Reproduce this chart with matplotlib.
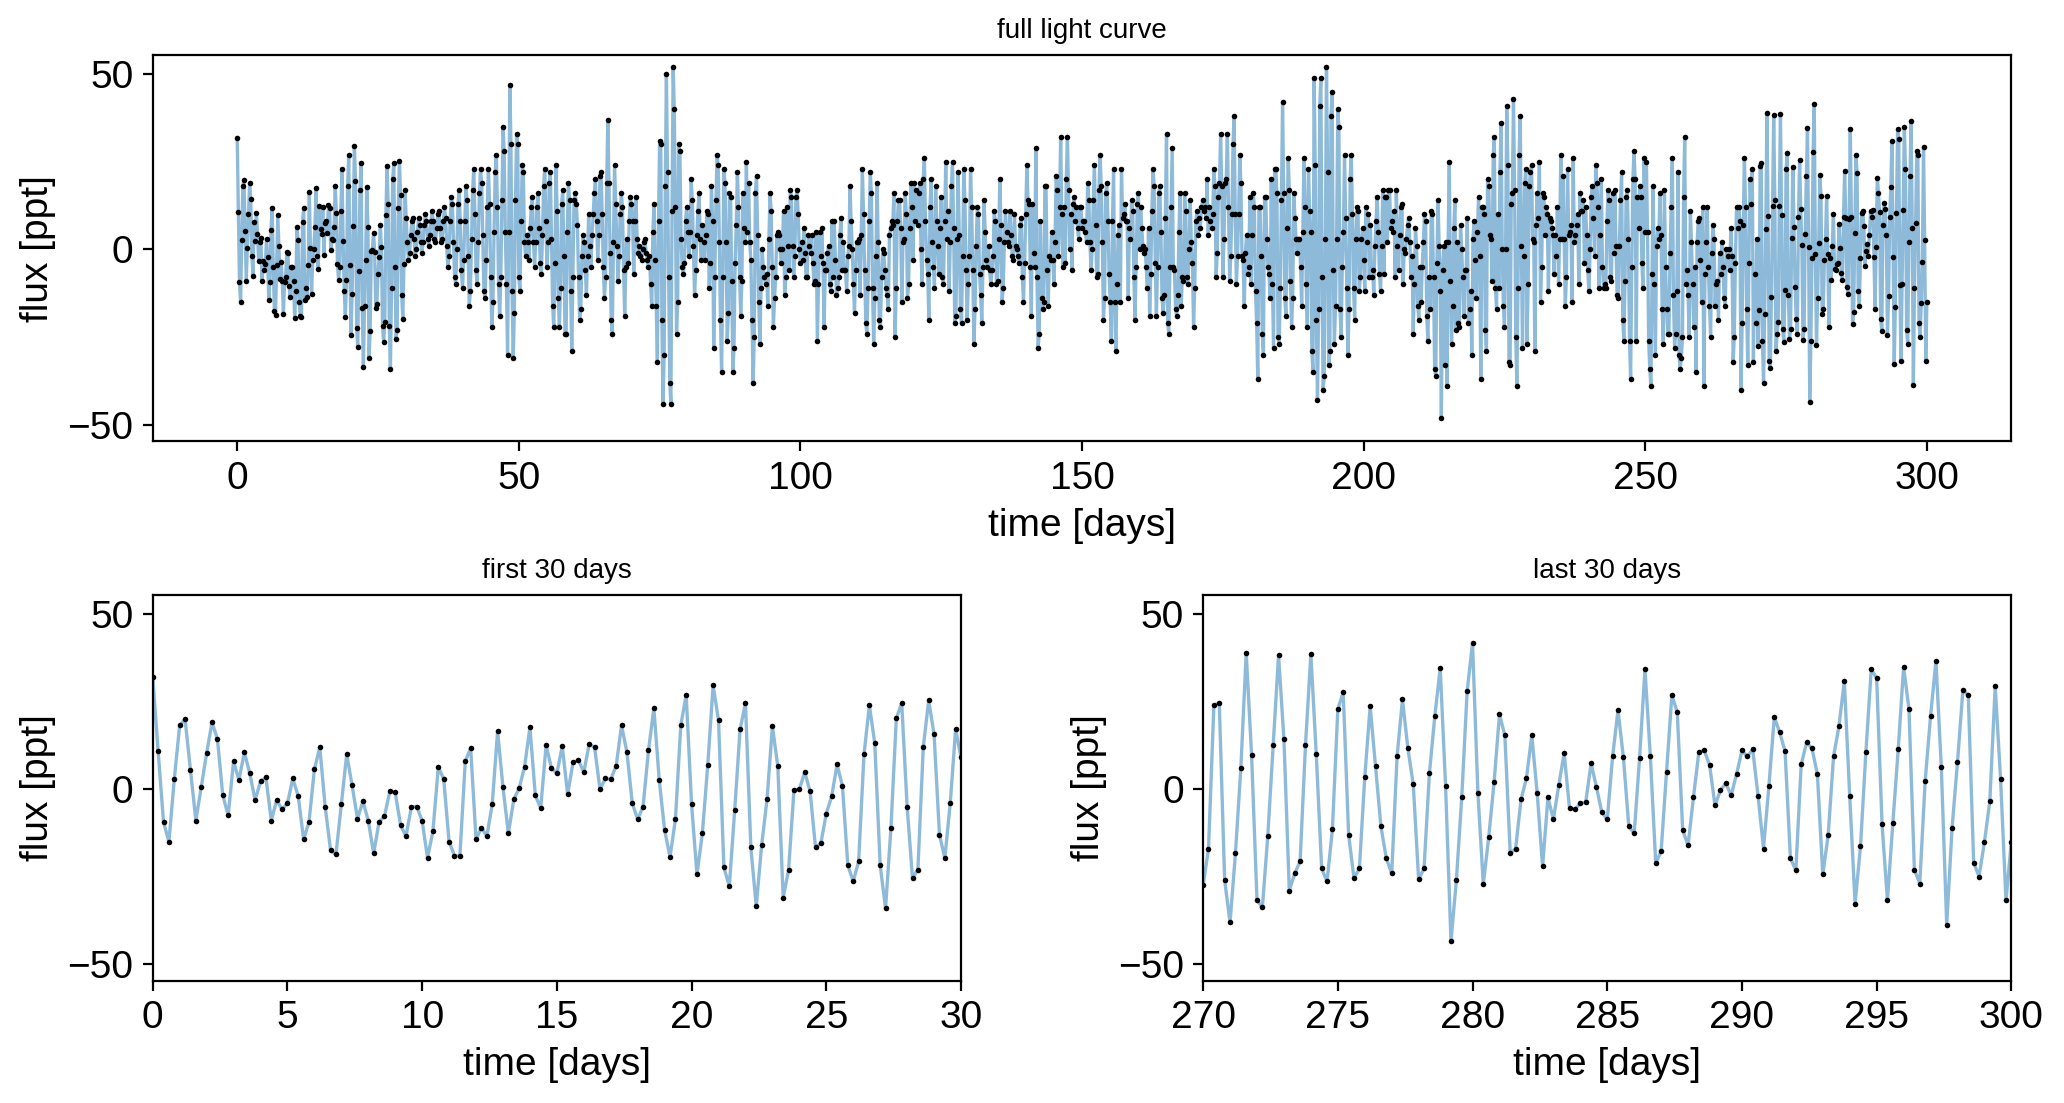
import numpy as np
import matplotlib
matplotlib.use("Agg")
import matplotlib.pyplot as plt

# flux [ppt], sampled every 0.2 days from t = 0 to t = 300
cadence = 0.2

flux_first30 = [
    31.9, 10.8, -9.4, -15.1, 2.8, 18.2, 19.9, 5.3, -9.0, 0.5,
    10.2, 19.0, 14.3, -1.8, -7.5, 7.9, 2.5, 10.5, 4.5, -3.2,
    2.2, 3.3, -9.0, -3.2, -5.8, -4.1, 3.0, -2.1, -14.4, -9.4,
    5.6, 11.9, -5.0, -17.5, -18.7, -4.4, 9.9, 1.0, -8.5, -3.5,
    -9.0, -18.4, -9.4, -7.8, -0.7, -1.0, -10.4, -13.5, -5.1, -5.0,
    -9.1, -19.7, -12.0, 6.3, 2.8, -15.1, -19.0, -19.2, 7.9, 11.7,
    -14.4, -11.0, -13.5, -4.4, 16.5, 0.5, -12.7, -3.0, 0.2, 6.3,
    17.6, -1.8, -5.5, 12.5, 5.9, 4.5, 12.2, -1.5, 7.6, 8.2,
    4.8, 12.8, 11.9, -0.1, 3.0, 2.8, 6.5, 18.2, 10.5, -4.1,
    -8.7, -5.0, 11.0, 23.0, 2.5, -11.8, -19.4, -8.7, 18.2, 26.8,
    -4.4, -24.4, -12.7, 6.8, 29.6, 19.6, -22.4, -27.8, -6.1, 17.0,
    24.5, -16.7, -33.5, -16.1, -3.0, 17.9, 6.5, -31.0, -23.2, -0.4,
    -0.1, 4.8, -0.7, -16.7, -15.5, -7.0, -2.1, 7.0, 0.8, -21.8,
    -26.4, -20.7, 9.9, 23.9, 13.0, -21.8, -34.1, -11.0, 20.2, 24.5,
    -5.0, -25.5, -23.0, 11.9, 25.3, 15.6, -13.0, -19.8, -4.1, 17.0,
    9.0,
]

# days 30.2 - 110
flux_mid_a = [
    2, -3, -1, 4, 8, 9, 3, -2, 0, 5,
    9, 7, 2, -1, 2, 7, 10, 8, 3, 1,
    4, 8, 11, 8, 3, 2, 6, 10, 11, 6,
    2, 3, 8, 12, 9, 1, -5, -2, 8, 15,
    13, 2, -8, -10, 0, 13, 17, 8, -6, -11,
    -3, 8, 18, 14, -2, -16, -12, 3, 17, 23,
    10, -6, -10, 2, 16, 23, 19, 4, -12, -14,
    -3, 12, 23, 13, -8, -22, -15, 5, 22, 27,
    12, -10, -19, -8, 14, 35, 28, 5, -10, -30,
    5, 47, 30, -12, -31, -18, 14, 33, 30, -8,
    -12, 8, 24, 22, 2, -2, 4, 2, -3, 6,
    12, 15, 2, -5, 2, 12, 16, 6, -4, -7,
    4, 18, 23, 8, -5, 2, 19, 22, 3, -16,
    -22, -4, 24, 11, -14, -22, -11, 13, 17, -2,
    -24, -24, 5, 19, 14, -12, -29, -8, 14, 16,
    13, 7, -8, -20, -17, -2, 4, 2, -6, -13,
    -2, 10, 1, -5, 4, 10, 16, 20, 8, -3,
    4, 21, 22, 10, -5, -14, -8, 19, 37, 19,
    -1, -20, -24, 2, 24, 13, 1, -9, -2, 10,
    16, 12, -6, -19, -5, 3, -4, 8, 15, 13,
    8, -7, 8, 15, 3, -1, 1, -2, -3, 0,
    2, 3, -1, -3, -5, -2, -10, -16, 5, 13,
    -3, -16, -32, 8, 31, 30, -20, -44, -30, 18,
    50, 22, -8, -38, -44, 11, 52, 40, 12, -24,
    -15, 30, 28, 3, -5, -7, -4, 8, 12, 5,
    -2, 5, 20, 14, 1, -13, -6, 4, 11, 16,
    3, -3, 7, 2, -3, 4, 11, 10, -11, -4,
    18, 8, -28, -8, 14, 27, 24, 2, -20, -35,
    -8, 23, 19, 2, -26, -18, 16, 15, -9, -35,
    -28, -4, 7, 22, 12, -8, -19, -9, 16, 6,
    2, 25, 5, 19, 2, -3, -20, -38, -25, 16,
    21, 4, -15, -27, -11, 0, -5, -8, -10, -7,
    -16, 3, 16, 11, -5, -22, -14, -8, 4, 5,
    4, 0, -4, 0, 11, -13, -8, 12, 1, -6,
    17, 15, 1, -8, -2, 15, 17, 10, 0, -4,
    2, -3, 6, -1, -8, -8, 4, 1, -1, 4,
    -4, -10, -9, 5, -26, -10, 5, -2, 6, -4,
    -22, -6, -6, -1, 1, -10, -12, 8, -8, 8,
    -3, -13, -11, -8, 4, 9, -6, 2, -6, -6,
    -12, -2, 1, 18, 8, 0, -10, -18, -6, 2,
]

# days 110.2 - 190
flux_mid_b = [
    2, 3, -13, 4, 23, 10, -6, -21, -24, -11,
    8, 22, 16, -11, -27, -14, -2, 19, 2, -20,
    -22, -8, 0, -1, -6, -11, -13, -17, 4, 6,
    8, 7, 16, -25, -11, 8, 14, 14, 6, -15,
    2, 3, 16, 10, -14, -10, 6, 19, 12, -3,
    19, 8, 17, 7, 16, 19, 0, -10, 20, 26,
    8, -3, -7, -20, 12, 20, 2, -5, -11, 18,
    8, 1, -7, 6, 15, -8, -10, 8, 25, 3,
    11, -12, 2, 18, 25, 6, -21, -19, 3, 22,
    4, -17, -21, -2, 23, 14, -6, -20, -10, -2,
    23, 12, -6, -27, -17, 1, 12, 10, -7, -13,
    -21, -5, 14, 5, -3, -5, 1, -6, -10, -6,
    -2, 11, 8, -10, -9, 3, 20, 7, -15, -11,
    2, 11, 5, 2, 1, 11, 4, -2, -3, 10,
    1, 0, -2, -4, 7, 9, -8, -15, -4, 10,
    24, 14, 13, -5, -19, 13, -1, -5, 29, -8,
    -28, -24, 8, -14, -17, -15, 18, 18, -6, -16,
    -2, -3, 5, -3, -10, 2, 21, 17, -2, 12,
    32, 10, -5, 12, -4, 20, 32, 17, 0, 10,
    -6, 13, 15, 8, 12, 6, 3, 12, 12, 6,
    8, 8, 5, 2, 19, 14, 2, -6, 0, 14,
    24, 7, -8, -7, 17, 27, 18, 2, -20, -14,
    16, 19, 8, -7, -15, -26, 8, 23, -15, -29,
    -10, 4, 7, -15, 23, 9, 10, 13, 8, 8,
    -14, 6, 3, 14, 11, -8, -20, -5, 13, 16,
    0, 12, 6, 1, -1, 0, -5, -11, 6, -19,
    -7, 11, 23, 18, -4, -19, -5, 16, 18, 5,
    -14, -18, -13, 9, 33, -21, -24, -5, 12, 29,
    -5, -6, -17, -19, -13, 5, 16, -16, -8, -9,
    16, 11, -8, -10, 0, 14, 2, -4, -22, -11,
    8, 11, 4, 9, 6, 12, 14, 11, 12, 9,
    20, 4, 12, 8, 6, 10, 23, 18, -8, -1,
    15, 19, 33, 18, -8, 3, 19, 20, 33, 12,
    -9, -2, 10, 30, 38, 10, -10, -2, 10, 27,
    19, -2, -3, -16, -1, 4, -7, -5, 15, -10,
    4, 16, 12, -12, -21, -37, 12, 12, -2, -24,
    -30, 15, 15, 3, -5, -7, -14, 20, -10, -28,
    23, 23, 16, -25, -27, -11, 14, 42, 16, -14,
    -19, 6, 26, 17, -9, -22, -14, 16, 9, 3,
    -1, 3, 3, -5, -16, 5, 26, 12, -10, -22,
]

# days 190.2 - 269.8
flux_mid_c = [
    23, 11, 5, -29, -35, 49, 24, -20, -43, -17,
    41, 49, -8, -40, -36, 3, 52, 22, -33, -29,
    38, 45, -6, -27, -16, 3, 40, 35, -17, -25,
    -5, 5, 27, 9, -11, -30, -17, 20, 27, 10,
    -11, -20, 3, 12, 11, -12, -8, 3, 6, -3,
    -12, 12, 2, 10, -8, 7, -8, -6, -13, 1,
    8, 15, 5, -7, -12, 1, 17, -7, 15, 15,
    2, 17, 17, 6, 8, 5, 11, -8, 17, 1,
    -6, 4, 12, 13, -10, 0, -1, 3, 7, 9,
    2, -8, -2, -24, -10, 6, 1, -16, -20, -5,
    -15, -5, 2, 10, 8, -19, -26, -8, -17, 11,
    10, -8, -34, -36, -4, 14, 1, -12, -48, -6,
    1, -33, 2, -39, 2, 25, -9, -27, -16, 6,
    14, -23, 2, -21, -22, 7, 0, -8, -19, -6,
    -6, 9, -21, -17, -12, -30, 3, 8, -3, -14,
    5, 15, -2, -37, 12, 12, 10, -23, -29, 20,
    18, 4, 3, -9, 27, 32, -11, -17, 10, -11,
    22, 36, 0, -16, -22, 0, 41, 24, -32, -33,
    13, 16, 43, 17, -25, -39, -11, 27, 38, 1,
    -28, -2, 19, 23, -27, -10, 18, 22, 24, 3,
    2, -29, 7, 16, 9, 25, -15, -5, 16, 15,
    4, 12, 10, -12, 9, 8, 6, 4, -7, 4,
    -2, 12, -10, 3, 27, 3, 21, 3, -16, -8,
    23, 4, 5, 7, -15, 26, 2, 4, 7, 10,
    -10, 16, 11, 11, 14, -4, 12, 4, -6, -12,
    0, 15, 18, 9, -2, 24, 19, 12, -11, 4,
    20, -5, -11, -10, -11, 8, 17, 14, -8, -9,
    16, -1, 17, 1, -13, -14, 1, 14, 22, -20,
    -26, -9, 15, 17, 3, -26, -37, -5, 20, 28,
    20, -26, 15, 6, 18, 15, -4, -11, 26, 5,
    25, 5, -26, -34, -39, -7, 18, -10, -30, 1,
    6, 3, 16, 4, -17, -27, 17, -5, -17, -24,
    -24, -1, 12, 26, -13, -28, -24, -12, 22, -30,
    -34, -31, -25, 15, 32, -10, -6, -13, -25, 11,
    2, -10, -22, -5, -35, 2, 8, 9, -3, -15,
    12, -39, -7, 2, 12, -5, -16, -25, -1, 7,
    3, -16, -10, -9, -20, -1, -7, 2, -5, -14,
    -16, 0, -2, 0, -6, 6, -2, -32, -25, -4,
    12, 6, 12, 8, -40, -21, 7, 26, 12, -17,
    -33, -4, 20, 13, 23, -32, -7, -21, 3,
]

flux_last30 = [
    -27.5, -17.2, 23.9, 24.5, -26.1, -38.1, -18.4, 5.9, 38.8, 9.6,
    -31.8, -33.8, -13.5, 12.5, 38.2, 14.2, -29.0, -24.1, -20.7, 12.5,
    38.5, 9.9, -22.7, -26.4, -11.5, 22.8, 27.6, -13.0, -25.5, -22.7,
    3.3, 23.6, 6.5, -10.7, -19.8, -24.1, 9.3, 25.6, 11.6, 1.3,
    -25.8, -22.7, 4.5, 20.8, 34.5, 0.8, -43.5, -26.1, -2.4, 27.9,
    41.6, -1.2, -27.2, -13.8, 1.9, 21.3, 15.3, -18.4, -17.0, -3.0,
    3.0, 15.3, -1.2, -22.1, -2.4, -8.7, 1.0, 10.2, -5.5, -5.8,
    -4.1, -3.8, 7.3, 0.5, -6.7, -8.7, 9.3, 22.5, 9.0, -10.7,
    -12.7, 8.8, 34.2, 9.3, -21.2, -17.8, 4.8, 26.8, 21.9, -11.8,
    -16.1, -2.4, 10.5, 11.0, 6.8, -4.7, -0.4, 1.6, -1.8, 4.2,
    11.0, 9.3, 11.3, -2.1, -17.0, 0.8, 20.5, 16.2, 10.8, -19.8,
    -23.2, 7.0, 13.3, 11.6, 4.2, -24.4, -13.2, 9.3, 17.9, 30.8,
    -2.1, -32.7, -16.4, 10.5, 34.2, 31.6, -10.1, -31.8, -9.8, 11.3,
    34.8, 22.8, -23.0, -27.0, 2.2, 20.8, 36.5, 6.2, -38.7, -11.0,
    7.6, 28.2, 26.8, -21.0, -25.0, -15.2, -3.5, 29.3, 2.8, -31.8,
    -15.0,
]

flux = np.concatenate([flux_first30, flux_mid_a, flux_mid_b, flux_mid_c, flux_last30])
t = np.arange(len(flux)) * cadence

plt.rcParams["font.family"] = ["Liberation Sans", "DejaVu Sans"]
plt.rcParams["font.size"] = 14

line_kw = dict(color="C0", alpha=0.5, lw=1.2)
dot_kw = dict(ls="none", marker="o", color="k", ms=2.0, mew=0)
ylim = (-54.7, 55.4)

fig = plt.figure(figsize=(10.32, 5.515), dpi=200)
ax_full = fig.add_axes([0.074, 0.600, 0.9005, 0.350])
ax_first = fig.add_axes([0.074, 0.111, 0.3916, 0.3496])
ax_last = fig.add_axes([0.5829, 0.111, 0.3916, 0.3496])

for ax in (ax_full, ax_first, ax_last):
    ax.plot(t, flux, **line_kw)
    ax.plot(t, flux, **dot_kw)
    ax.set_ylim(ylim)
    ax.set_ylabel("flux [ppt]")
    ax.set_xlabel("time [days]")

ax_full.set_xlim(-15, 315)
ax_full.set_title("full light curve", fontsize=10)

ax_first.set_xlim(0, 30)
ax_first.set_title("first 30 days", fontsize=10)

ax_last.set_xlim(270, 300)
ax_last.set_title("last 30 days", fontsize=10)

fig.savefig("out.png", dpi=200)
